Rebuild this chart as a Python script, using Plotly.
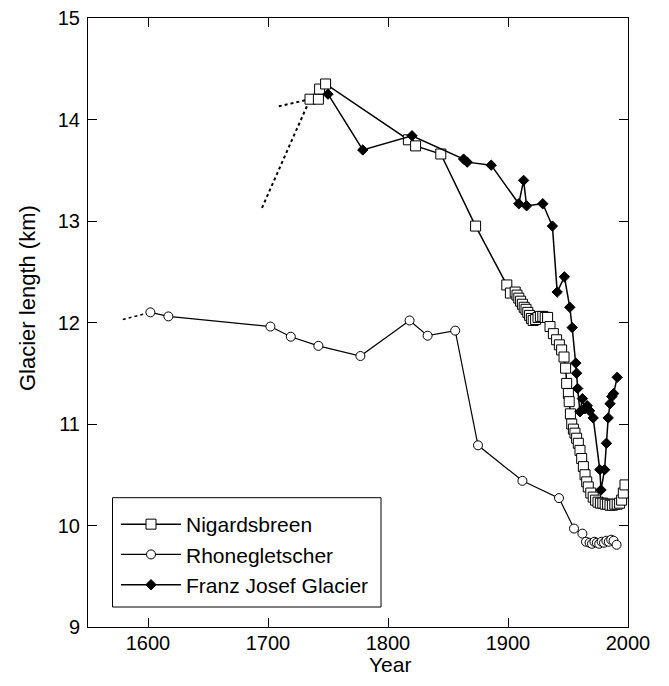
import plotly.graph_objects as go

# ---------------- data ----------------
# Nigardsbreen (open squares, solid line)
nig_years = [1735, 1742, 1743, 1748, 1817, 1823, 1844, 1873, 1899, 1902,
             1906, 1907.5, 1909, 1910.5, 1912, 1913.5, 1915, 1916.5, 1918, 1919.5,
             1921, 1923, 1925, 1927, 1929, 1931, 1933, 1935, 1937.8, 1940.5,
             1942.8, 1944.7, 1946.7, 1948, 1948.9, 1950.3, 1951, 1952, 1953.1, 1954.5,
             1955.8, 1957.2, 1958.6, 1960, 1961.4, 1962.8, 1964.2, 1965.6, 1966.9, 1969,
             1971, 1973, 1975, 1977, 1979, 1981, 1983, 1985, 1987, 1989,
             1991, 1993, 1994.7, 1996.1, 1997.5]
nig_len = [14.20, 14.20, 14.30, 14.35, 13.80, 13.74, 13.66, 12.95, 12.37, 12.29,
           12.30, 12.27, 12.24, 12.21, 12.18, 12.15, 12.13, 12.10, 12.07, 12.04,
           12.02, 12.03, 12.05, 12.06, 12.06, 12.05, 12.05, 11.96, 11.89, 11.83,
           11.78, 11.73, 11.66, 11.55, 11.40, 11.30, 11.22, 11.10, 11.00, 10.95,
           10.91, 10.86, 10.81, 10.74, 10.66, 10.58, 10.50, 10.43, 10.38, 10.32,
           10.28, 10.25, 10.23, 10.22, 10.22, 10.21, 10.21, 10.20, 10.20, 10.21,
           10.21, 10.22, 10.25, 10.32, 10.40]

# Nigardsbreen uncertain (dotted) reconstructions
nig_dot1_years = [1695, 1735]
nig_dot1_len = [13.13, 14.20]
nig_dot2_years = [1709, 1735]
nig_dot2_len = [14.13, 14.20]

# Rhonegletscher (open circles, solid line)
rho_years = [1602, 1617, 1702, 1719, 1742, 1777, 1818, 1833, 1856, 1875,
             1912, 1942.5, 1955, 1962, 1965, 1968, 1970, 1972, 1974, 1976,
             1978, 1980, 1982, 1984, 1986, 1988, 1990.5]
rho_len = [12.10, 12.06, 11.96, 11.86, 11.77, 11.67, 12.02, 11.87, 11.92, 10.79,
           10.44, 10.27, 9.97, 9.92, 9.84, 9.83, 9.82, 9.84, 9.83, 9.82,
           9.84, 9.83, 9.85, 9.84, 9.86, 9.85, 9.81]

# Rhonegletscher uncertain (dotted) start
rho_dot_years = [1579, 1602]
rho_dot_len = [12.03, 12.10]

# Franz Josef Glacier (filled diamonds, solid line)
fj_years = [1750, 1779, 1820, 1863, 1866, 1886, 1909, 1913, 1915.5, 1929,
            1937, 1941, 1947, 1951.5, 1953.5, 1956.5, 1957.2, 1958, 1960, 1962,
            1964, 1966, 1968, 1971, 1976.5, 1977.5, 1980.5, 1982, 1983.5, 1985,
            1986.5, 1988, 1991]
fj_len = [14.25, 13.70, 13.84, 13.61, 13.58, 13.55, 13.17, 13.40, 13.15, 13.17,
          12.95, 12.30, 12.45, 12.15, 11.95, 11.60, 11.50, 11.35, 11.12, 11.25,
          11.15, 11.18, 11.13, 11.06, 10.55, 10.35, 10.55, 10.81, 11.06, 11.20,
          11.27, 11.30, 11.46]

x_ticks = [1600, 1700, 1800, 1900, 2000]
y_ticks = [9, 10, 11, 12, 13, 14, 15]

# ---------------- figure ----------------
FONT = "Liberation Sans, Arial, Helvetica, sans-serif"
fig = go.Figure()

dotted = dict(color="black", width=2, dash="dot")
fig.add_trace(go.Scatter(x=nig_dot1_years, y=nig_dot1_len, mode="lines",
                         line=dotted, showlegend=False, hoverinfo="skip"))
fig.add_trace(go.Scatter(x=nig_dot2_years, y=nig_dot2_len, mode="lines",
                         line=dotted, showlegend=False, hoverinfo="skip"))
fig.add_trace(go.Scatter(x=rho_dot_years, y=rho_dot_len, mode="lines",
                         line=dict(color="black", width=1.6, dash="dot"),
                         showlegend=False, hoverinfo="skip"))

fig.add_trace(go.Scatter(
    x=nig_years, y=nig_len, mode="lines+markers", name="Nigardsbreen",
    line=dict(color="black", width=1.5),
    marker=dict(symbol="square", size=10, color="white",
                line=dict(color="black", width=1))))
fig.add_trace(go.Scatter(
    x=rho_years, y=rho_len, mode="lines+markers", name="Rhonegletscher",
    line=dict(color="black", width=1.2),
    marker=dict(symbol="circle", size=9, color="white",
                line=dict(color="black", width=1))))
fig.add_trace(go.Scatter(
    x=fj_years, y=fj_len, mode="lines+markers", name="Franz Josef Glacier",
    line=dict(color="black", width=1.5),
    marker=dict(symbol="diamond", size=8, color="black",
                line=dict(color="black", width=1))))

axis_common = dict(showline=True, linecolor="black", linewidth=1, mirror="ticks",
                   ticks="inside", ticklen=9, tickcolor="black", tickwidth=1,
                   showgrid=False, zeroline=False, automargin=False,
                   ticklabeloverflow="allow",
                   tickfont=dict(family=FONT, size=20, color="black"))

# The page body has an 8px default margin, so the figure is drawn 8px in.
# Plot area on screen: x 88..628, y 18..627.
W, H = 661, 678
L, R, T, B = 80, 41, 10, 59
PW, PH = W - L - R, H - T - B


def px(xs):  # screen x -> paper x
    return (xs - 8 - L) / PW


def py(ys):  # screen y -> paper y
    return (H - B - (ys - 8)) / PH


fig.update_layout(
    width=W, height=H,
    margin=dict(l=L, r=R, t=T, b=B),
    plot_bgcolor="white", paper_bgcolor="white",
    font=dict(family=FONT, size=20, color="black"),
    xaxis=dict(range=[1550, 2000], tickvals=x_ticks, ticklabelstandoff=-2, **axis_common),
    yaxis=dict(range=[9, 15], tickvals=y_ticks, ticklabelstandoff=3, **axis_common),
    legend=dict(x=px(116), y=py(504), xanchor="left", yanchor="top",
                borderwidth=0, bgcolor="rgba(0,0,0,0)",
                font=dict(family=FONT, size=21, color="black"),
                itemwidth=60, tracegroupgap=0),
    shapes=[dict(type="rect", xref="paper", yref="paper",
                 x0=px(112.5), x1=px(381), y0=py(607), y1=py(497.7),
                 line=dict(color="black", width=1), fillcolor="white",
                 layer="above")],
    annotations=[
        dict(text="Year", xref="paper", yref="paper",
             x=px(390), y=py(664),
             xanchor="center", yanchor="middle", showarrow=False,
             font=dict(family=FONT, size=21, color="black")),
        dict(text="Glacier length (km)", xref="paper", yref="paper",
             x=px(27), y=py(298), textangle=-90,
             xanchor="center", yanchor="middle", showarrow=False,
             font=dict(family=FONT, size=22, color="black")),
    ],
)

fig.write_html("out.html")
